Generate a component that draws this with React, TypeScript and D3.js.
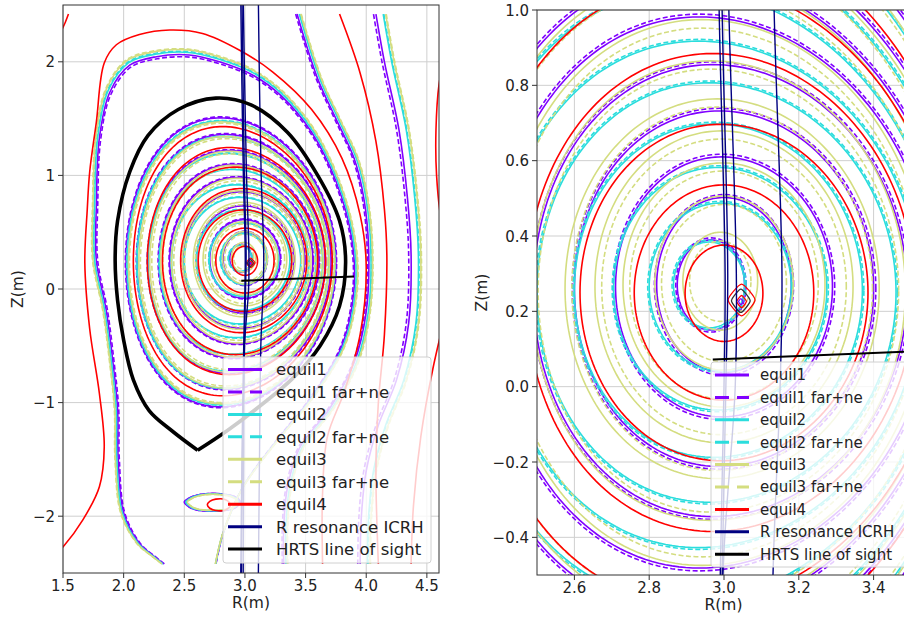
import React, { useEffect, useRef } from "react";
import * as d3 from "d3";

type Pt = [number, number];
type Surf = [number, number, number, number, number]; // R centre, Z centre, half width, elongation, triangularity

// ---- axes ----
const leftRTicks = [1.5, 2.0, 2.5, 3.0, 3.5, 4.0, 4.5];
const leftZTicks = [-2, -1, 0, 1, 2];
const rightRTicks = [2.6, 2.8, 3.0, 3.2, 3.4];
const rightZTicks = [-0.4, -0.2, 0.0, 0.2, 0.4, 0.6, 0.8, 1.0];

// ---- legend ----
const seriesNames = [
  "equil1",
  "equil1 far+ne",
  "equil2",
  "equil2 far+ne",
  "equil3",
  "equil3 far+ne",
  "equil4",
  "R resonance ICRH",
  "HRTS line of sight",
];
const seriesColors = ["#8000ff", "#8000ff", "#2bdddd", "#2bdddd", "#d4dd80", "#d4dd80", "#ff0000", "#000080", "#000000"];
const seriesDashed = [false, true, false, true, false, true, false, false, false];

// ---- closed flux surfaces ----
const equil1: Surf[] = [
  [2.965, 0.27, 0.09, 1.33, 0.0],
  [3.0, 0.27, 0.18, 1.29, 0.0],
  [3.0, 0.265, 0.29, 1.19, 0.02],
  [3.0, 0.26, 0.4, 1.18, 0.03],
  [2.99, 0.255, 0.5, 1.2, 0.04],
  [2.97, 0.25, 0.59, 1.24, 0.06],
  [2.95, 0.245, 0.66, 1.29, 0.07],
  [2.93, 0.24, 0.73, 1.34, 0.08],
  [2.91, 0.24, 0.8, 1.4, 0.09],
  [2.885, 0.235, 0.865, 1.47, 0.1],
];
const equil1Far = [0.094, 0.186, 0.296, 0.406, 0.506, 0.596, 0.666, 0.736, 0.806, 0.871];

const equil2: Surf[] = [
  [2.96, 0.27, 0.095, 1.2, 0.0],
  [2.99, 0.265, 0.19, 1.17, 0.0],
  [2.99, 0.26, 0.285, 1.13, 0.02],
  [2.985, 0.255, 0.385, 1.15, 0.03],
  [2.98, 0.25, 0.48, 1.16, 0.04],
  [2.96, 0.245, 0.565, 1.19, 0.05],
  [2.94, 0.24, 0.645, 1.26, 0.07],
  [2.92, 0.235, 0.72, 1.33, 0.08],
  [2.9, 0.235, 0.79, 1.4, 0.09],
  [2.885, 0.23, 0.855, 1.46, 0.1],
];
const equil2Far = [0.099, 0.194, 0.289, 0.389, 0.484, 0.569, 0.649, 0.724, 0.794, 0.859];

const equil3: Surf[] = [
  [2.99, 0.28, 0.1, 1.3, 0.0],
  [3.0, 0.275, 0.185, 1.25, 0.0],
  [3.0, 0.27, 0.27, 1.2, 0.01],
  [3.0, 0.265, 0.345, 1.2, 0.02],
  [2.995, 0.26, 0.42, 1.2, 0.03],
  [2.985, 0.255, 0.5, 1.22, 0.04],
  [2.97, 0.25, 0.575, 1.26, 0.05],
  [2.95, 0.245, 0.645, 1.31, 0.06],
  [2.93, 0.24, 0.715, 1.36, 0.08],
  [2.91, 0.235, 0.785, 1.41, 0.09],
  [2.89, 0.23, 0.85, 1.46, 0.1],
];
const equil3Far = [0.082, 0.167, 0.252, 0.327, 0.402, 0.482, 0.557, 0.627, 0.698, 0.772, 0.842];

const equil4: Surf[] = [
  [3.0, 0.248, 0.104, 1.23, 0.0],
  [3.0, 0.25, 0.24, 1.19, 0.0],
  [3.0, 0.25, 0.385, 1.16, 0.02],
  [2.99, 0.25, 0.52, 1.22, 0.04],
  [2.96, 0.248, 0.64, 1.29, 0.06],
  [2.93, 0.246, 0.735, 1.36, 0.08],
  [2.9, 0.245, 0.82, 1.445, 0.1],
];

// ---- open field lines (equil1 trace), shifted per series; contour grid stops at |Z| = 2.42 ----
const openA: Pt[] = [
  [2.33, -2.42], [2.26, -2.36], [2.13, -2.24], [2.0, -1.97], [1.955, -1.5], [1.95, -1.06],
  [1.91, -0.63], [1.855, -0.18], [1.775, 0.25], [1.775, 0.74], [1.8, 1.33], [1.885, 1.73],
  [2.05, 1.97], [2.27, 2.045], [2.54, 2.06], [2.79, 2.0], [3.07, 1.88], [3.3, 1.7],
  [3.55, 1.38], [3.75, 0.95], [3.88, 0.45], [3.9, 0.0], [3.8, -0.5], [3.55, -0.95],
  [3.25, -1.35], [2.98, -1.75], [2.82, -2.15], [2.76, -2.42],
];
const openAScale = [1.0, 0.99, 1.012, 1.016, 1.024, 1.028];
const openB: Pt[] = [
  [3.43, 2.42], [3.6, 1.85], [3.75, 1.5], [3.9, 1.15], [3.98, 0.8], [4.02, 0.35],
  [4.0, -0.2], [3.9, -0.65], [3.7, -1.05], [3.45, -1.4], [3.35, -1.75], [3.32, -2.1], [3.32, -2.42],
];
const openBShift = [0, -0.012, 0.018, 0.022, 0.03, 0.034];
const openC: Pt[] = [
  [4.08, 2.42], [4.15, 2.0], [4.27, 1.4], [4.34, 0.8], [4.37, 0.3], [4.35, -0.3],
  [4.25, -0.8], [4.1, -1.2], [4.0, -1.6], [3.96, -2.0], [3.95, -2.42],
];
const openCShift = [0, -0.02, 0.06, 0.065, 0.08, 0.085];

const red1: Pt[] = [
  [1.45, -2.32], [1.5, -2.27], [1.665, -2.03], [1.8, -1.74], [1.84, -1.39], [1.8, -0.92],
  [1.72, -0.35], [1.68, 0.23], [1.7, 0.7], [1.72, 1.03], [1.775, 1.47], [1.84, 1.99],
  [1.94, 2.15], [2.13, 2.24], [2.38, 2.28], [2.65, 2.25], [2.96, 2.1], [3.23, 1.91],
  [3.55, 1.58], [3.8, 1.15], [3.95, 0.65], [4.0, 0.2], [3.95, -0.4], [3.82, -0.9],
  [3.68, -1.3], [3.64, -1.8], [3.64, -2.42],
];
const red2: Pt[] = [
  [3.78, 2.42], [3.95, 1.9], [4.08, 1.3], [4.15, 0.7], [4.17, 0.3],
  [4.15, -0.4], [4.1, -1.0], [4.08, -1.6], [4.1, -2.42],
];
const red3: Pt[] = [[4.66, 2.1], [4.6, 1.8], [4.575, 1.4], [4.58, 1.0], [4.62, 0.6], [4.67, 0.4]];
const red4: Pt[] = [[4.66, -0.2], [4.55, -0.7], [4.45, -1.3], [4.39, -1.9], [4.37, -2.42]];
const red5: Pt[] = [[1.49, 2.28], [1.52, 2.35], [1.545, 2.42]];

// ---- private flux loops under the X-point ----
const privLoop: Pt[] = [
  [2.5, -1.875], [2.54, -1.84], [2.6, -1.815], [2.7, -1.8], [2.82, -1.805], [2.92, -1.83],
  [2.96, -1.87], [2.93, -1.92], [2.83, -1.95], [2.7, -1.955], [2.6, -1.945], [2.54, -1.92],
];
const privScale = [1.0, 0.99, 0.95, 0.94, 0.9, 0.89];
const privRed: Pt[] = [
  [2.69, -1.9], [2.71, -1.87], [2.76, -1.85], [2.84, -1.855], [2.88, -1.9], [2.84, -1.945],
  [2.76, -1.95], [2.71, -1.93],
];

// small contours at the axis: R, Z, half width, half height, colour
const axisBlobs: [number, number, number, number, string][] = [
  [3.047, 0.23, 0.036, 0.042, "#ff0000"],
  [3.045, 0.228, 0.025, 0.031, "#333333"],
  [3.047, 0.226, 0.013, 0.016, "#ff0000"],
  [3.045, 0.226, 0.006, 0.008, "#8000ff"],
];

// ---- ICRH resonance, HRTS, boundary ----
const resonance: Pt[][] = [
  [[2.965, 2.6], [2.975, 1.8], [2.987, 1.0], [3.003, 0.3], [3.0, 0.0], [2.99, -0.5], [2.975, -1.5], [2.965, -2.6]],
  [[2.975, 2.6], [2.985, 1.8], [2.995, 1.0], [3.01, 0.3], [3.005, 0.0], [2.995, -0.5], [2.98, -1.5], [2.97, -2.6]],
  [[2.985, 2.6], [2.998, 1.8], [3.013, 1.0], [3.033, 0.3], [3.03, 0.0], [2.997, -0.5], [2.99, -1.5], [2.985, -2.6]],
  [[3.11, 2.6], [3.12, 1.8], [3.134, 1.0], [3.155, 0.3], [3.15, 0.0], [3.131, -0.5], [3.12, -1.5], [3.11, -2.6]],
];
const hrtsLine: Pt[] = [[2.97, 0.072], [3.9, 0.11]];
const boundary: Pt[] = [
  [2.61, -1.42], [2.4, -1.25], [2.21, -1.07], [2.08, -0.8], [2.0, -0.45], [1.95, -0.1],
  [1.93, 0.25], [1.95, 0.6], [2.05, 1.03], [2.2, 1.35], [2.45, 1.58], [2.76, 1.68],
  [3.05, 1.62], [3.35, 1.38], [3.6, 1.0], [3.78, 0.6], [3.83, 0.25], [3.78, -0.15],
  [3.62, -0.5], [3.4, -0.78], [3.1, -1.05], [2.85, -1.25], [2.61, -1.42],
];

const FONT = "'DejaVu Sans', sans-serif";

function surfPoints(s: Surf, a: number): Pt[] {
  const [rc, zc, , k, d] = s;
  const pts: Pt[] = [];
  const n = 200;
  for (let i = 0; i < n; i++) {
    const t = (2 * Math.PI * i) / n;
    pts.push([rc + a * Math.cos(t + Math.asin(d) * Math.sin(t)), zc + k * a * Math.sin(t)]);
  }
  return pts;
}

function drawPanel(root: any, cfg: any) {
  const { id, x0, x1, y0, y1, rDom, zDom, rTicks, zTicks, rFmt, zFmt, leg } = cfg;
  const x = d3.scaleLinear().domain(rDom).range([x0, x1]);
  const y = d3.scaleLinear().domain(zDom).range([y1, y0]);

  root
    .append("clipPath")
    .attr("id", id)
    .append("rect")
    .attr("x", x0)
    .attr("y", y0)
    .attr("width", x1 - x0)
    .attr("height", y1 - y0);

  // grid
  const grid = root.append("g").attr("stroke", "#cfcfcf").attr("stroke-width", 1);
  rTicks.forEach((t: number) => grid.append("line").attr("x1", x(t)).attr("x2", x(t)).attr("y1", y0).attr("y2", y1));
  zTicks.forEach((t: number) => grid.append("line").attr("y1", y(t)).attr("y2", y(t)).attr("x1", x0).attr("x2", x1));

  const g = root.append("g").attr("clip-path", `url(#${id})`).attr("fill", "none");
  const closed = d3.line<Pt>().x((d) => x(d[0])).y((d) => y(d[1])).curve(d3.curveLinearClosed);
  const smooth = d3.line<Pt>().x((d) => x(d[0])).y((d) => y(d[1])).curve(d3.curveCatmullRom);
  const smoothClosed = d3.line<Pt>().x((d) => x(d[0])).y((d) => y(d[1])).curve(d3.curveCatmullRomClosed);

  const stroke = (p: any, i: number, w = 1.6) => {
    p.attr("stroke", seriesColors[i]).attr("stroke-width", w);
    if (seriesDashed[i]) p.attr("stroke-dasharray", "5,2.5");
    return p;
  };

  const tables = [equil1, equil1, equil2, equil2, equil3, equil3];
  const farA = [null, equil1Far, null, equil2Far, null, equil3Far];

  for (let i = 0; i < 6; i++) {
    const tab = tables[i];
    tab.forEach((s, j) => {
      const a = farA[i] ? (farA[i] as number[])[j] : s[2];
      stroke(g.append("path").attr("d", closed(surfPoints(s, a))), i);
    });
    const sa = openAScale[i];
    stroke(g.append("path").attr("d", smooth(openA.map((p) => [2.9 + (p[0] - 2.9) * sa, p[1] > 0 ? 0.2 + (p[1] - 0.2) * sa : p[1]] as Pt))), i);
    stroke(g.append("path").attr("d", smooth(openB.map((p) => [p[0] + openBShift[i], p[1]] as Pt))), i);
    stroke(g.append("path").attr("d", smooth(openC.map((p) => [p[0] + openCShift[i], p[1]] as Pt))), i);
    const sp = privScale[i];
    stroke(
      g.append("path").attr("d", smoothClosed(privLoop.map((p) => [2.75 + (p[0] - 2.75) * sp, -1.88 + (p[1] + 1.88) * sp] as Pt))),
      i
    );
  }

  equil4.forEach((s) => stroke(g.append("path").attr("d", closed(surfPoints(s, s[2]))), 6));
  [red1, red2, red3, red4, red5].forEach((l) => stroke(g.append("path").attr("d", smooth(l)), 6));
  stroke(g.append("path").attr("d", smoothClosed(privRed)), 6);

  axisBlobs.forEach(([rc, zc, rx, rz, c]) => {
    const pts: Pt[] = [[rc + rx, zc], [rc, zc + rz], [rc - rx, zc], [rc, zc - rz]];
    g.append("path")
      .attr("d", d3.line<Pt>().x((d) => x(d[0])).y((d) => y(d[1])).curve(d3.curveCardinalClosed.tension(0.4))(pts))
      .attr("stroke", c)
      .attr("stroke-width", 1.3);
  });

  resonance.forEach((l) => g.append("path").attr("d", smooth(l)).attr("stroke", seriesColors[7]).attr("stroke-width", 1.4));

  g.append("path").attr("d", smooth(boundary)).attr("stroke", "#000").attr("stroke-width", 3.6).attr("stroke-linejoin", "miter");
  g.append("path").attr("d", d3.line<Pt>().x((d) => x(d[0])).y((d) => y(d[1]))(hrtsLine)).attr("stroke", "#000").attr("stroke-width", 2);

  // spines + ticks
  root
    .append("rect")
    .attr("x", x0)
    .attr("y", y0)
    .attr("width", x1 - x0)
    .attr("height", y1 - y0)
    .attr("fill", "none")
    .attr("stroke", "#333")
    .attr("stroke-width", 1);

  const fx = d3.format(rFmt);
  const fz = d3.format(zFmt);
  const ax = root.append("g").attr("font-family", FONT).attr("font-size", 15).attr("fill", "#222");
  rTicks.forEach((t: number) => {
    ax.append("line").attr("x1", x(t)).attr("x2", x(t)).attr("y1", y1).attr("y2", y1 + 5).attr("stroke", "#333");
    ax.append("text").attr("x", x(t)).attr("y", y1 + 18).attr("text-anchor", "middle").text(fx(t));
  });
  zTicks.forEach((t: number) => {
    ax.append("line").attr("x1", x0 - 5).attr("x2", x0).attr("y1", y(t)).attr("y2", y(t)).attr("stroke", "#333");
    ax.append("text").attr("x", x0 - 8).attr("y", y(t) + 5.5).attr("text-anchor", "end").text(fz(t));
  });
  ax.append("text")
    .attr("x", (x0 + Math.min(x1, 904)) / 2 + cfg.rLabelDx)
    .attr("y", y1 + 35)
    .attr("text-anchor", "middle")
    .attr("font-size", 15.5)
    .text("R(m)");
  ax.append("text")
    .attr("transform", `translate(${cfg.zLabelX},${(y0 + y1) / 2}) rotate(-90)`)
    .attr("text-anchor", "middle")
    .attr("font-size", 15.5)
    .text("Z(m)");

  // legend
  const lg = root.append("g").attr("font-family", FONT).attr("font-size", leg.fs);
  lg.append("rect")
    .attr("x", leg.x)
    .attr("y", leg.y)
    .attr("width", leg.w)
    .attr("height", leg.h)
    .attr("rx", 3)
    .attr("fill", "#fff")
    .attr("fill-opacity", 0.8)
    .attr("stroke", "#d0d0d0");
  seriesNames.forEach((name, i) => {
    const yy = leg.row0 + i * leg.step;
    const h = lg
      .append("line")
      .attr("x1", leg.hx)
      .attr("x2", leg.hx + 34)
      .attr("y1", yy)
      .attr("y2", yy)
      .attr("stroke", seriesColors[i])
      .attr("stroke-width", 3);
    if (seriesDashed[i]) h.attr("stroke-dasharray", "14,8");
    lg.append("text").attr("x", leg.tx).attr("y", yy + leg.fs * 0.36).attr("fill", "#222").text(name);
  });
}

const App = () => {
  const svgRef = useRef<SVGSVGElement>(null);

  useEffect(() => {
    const svg = d3.select(svgRef.current);
    svg.selectAll("*").remove();
    svg.append("rect").attr("width", 904).attr("height", 617).attr("fill", "#fff");

    drawPanel(svg, {
      id: "clipL",
      x0: 63,
      x1: 439,
      y0: 5,
      y1: 573,
      rDom: [1.5, 4.6],
      zDom: [-2.5, 2.5],
      rTicks: leftRTicks,
      zTicks: leftZTicks,
      rFmt: ".1f",
      zFmt: "d",
      rLabelDx: 0,
      zLabelX: 23,
      leg: { x: 223, y: 357, w: 208, h: 206, hx: 228, tx: 276, row0: 369.5, step: 22.45, fs: 16.5 },
    });
    drawPanel(svg, {
      id: "clipR",
      x0: 537,
      x1: 911,
      y0: 10,
      y1: 575,
      rDom: [2.5, 3.5],
      zDom: [-0.5, 1.0],
      rTicks: rightRTicks,
      zTicks: rightZTicks,
      rFmt: ".1f",
      zFmt: ".1f",
      rLabelDx: 3,
      zLabelX: 487,
      leg: { x: 711, y: 362, w: 205, h: 205, hx: 715, tx: 760, row0: 375, step: 22.4, fs: 15 },
    });
  }, []);

  return <svg ref={svgRef} width={904} height={617} style={{ position: "absolute", left: 0, top: 0, display: "block" }} />;
};

export default App;
